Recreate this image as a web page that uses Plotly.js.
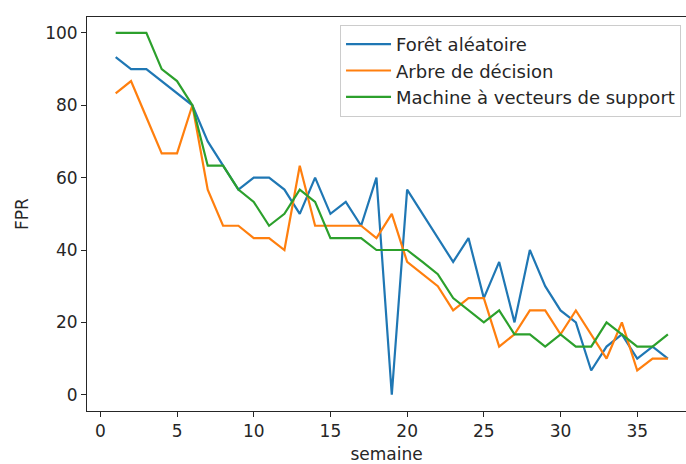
<!DOCTYPE html>
<html>
<head>
<meta charset="utf-8">
<script src="https://cdn.plot.ly/plotly-3.0.1.min.js"></script>
<style>html,body{margin:0;padding:0;background:#fff;}#chart{width:686px;height:464px;}</style>
</head>
<body>
<div id="chart"></div>
<script>
const semaine = [1,2,3,4,5,6,7,8,9,10,11,12,13,14,15,16,17,18,19,20,21,22,23,24,25,26,27,28,29,30,31,32,33,34,35,36,37];
const foretAleatoire = [93.3,90,90,86.7,83.3,80,70,63.3,56.7,60,60,56.7,50,60,50,53.3,46.7,60,0,56.7,50,43.3,36.7,43.3,26.7,36.7,20,40,30,23.3,20,6.7,13.3,16.7,10,13.3,10];
const arbreDecision = [83.3,86.7,76.7,66.7,66.7,80,56.7,46.7,46.7,43.3,43.3,40,63.3,46.7,46.7,46.7,46.7,43.3,50,36.7,33.3,30,23.3,26.7,26.7,13.3,16.7,23.3,23.3,16.7,23.3,16.7,10,20,6.7,10,10];
const machineSVM = [100,100,100,90,86.7,80,63.3,63.3,56.7,53.3,46.7,50,56.7,53.3,43.3,43.3,43.3,40,40,40,36.7,33.3,26.7,23.3,20,23.3,16.7,16.7,13.3,16.7,13.3,13.3,20,16.7,13.3,13.3,16.7];
const names = ["Forêt aléatoire","Arbre de décision","Machine à vecteurs de support"];
const colors = ["#1f77b4","#ff7f0e","#2ca02c"];
const series = [foretAleatoire, arbreDecision, machineSVM];

const font = {family: "DejaVu Sans", size: 17, color: "#262626"};
const traces = series.map((ys, i) => ({
  x: semaine, y: ys, type: "scatter", mode: "lines", name: names[i],
  legendgroup: "g" + i,
  line: {color: colors[i], width: 2.2}
}));

const layout = {
  width: 686, height: 464,
  margin: {l: 87, r: 0, t: 17, b: 53, pad: 0},
  paper_bgcolor: "#fff", plot_bgcolor: "#fff",
  font: font,
  showlegend: true,
  legend: {
    x: 0.9917, xanchor: "right", y: 0.98, yanchor: "top",
    bgcolor: "rgba(255,255,255,0.8)", bordercolor: "#cccccc", borderwidth: 1,
    font: {family: "DejaVu Sans", size: 18, color: "#262626"},
    itemwidth: 45,
    tracegroupgap: 0
  },
  xaxis: {
    range: [-0.87, 38.18],
    tickvals: [0,5,10,15,20,25,30,35],
    ticks: "outside", ticklen: 5, tickwidth: 1, tickcolor: "#262626",
    showline: true, linecolor: "#262626", linewidth: 1, mirror: true,
    showgrid: false, zeroline: false,
    tickfont: font,
    title: {text: "semaine", font: font, standoff: 13}
  },
  yaxis: {
    range: [-4.5, 104.4],
    tickvals: [0,20,40,60,80,100],
    ticks: "outside", ticklen: 5, tickwidth: 1, tickcolor: "#262626",
    showline: true, linecolor: "#262626", linewidth: 1,
    showgrid: false, zeroline: false,
    tickfont: font,
    title: {text: "FPR", font: font, standoff: 12}
  }
};
Plotly.newPlot("chart", traces, layout, {displayModeBar: false, staticPlot: true});
</script>
</body>
</html>
